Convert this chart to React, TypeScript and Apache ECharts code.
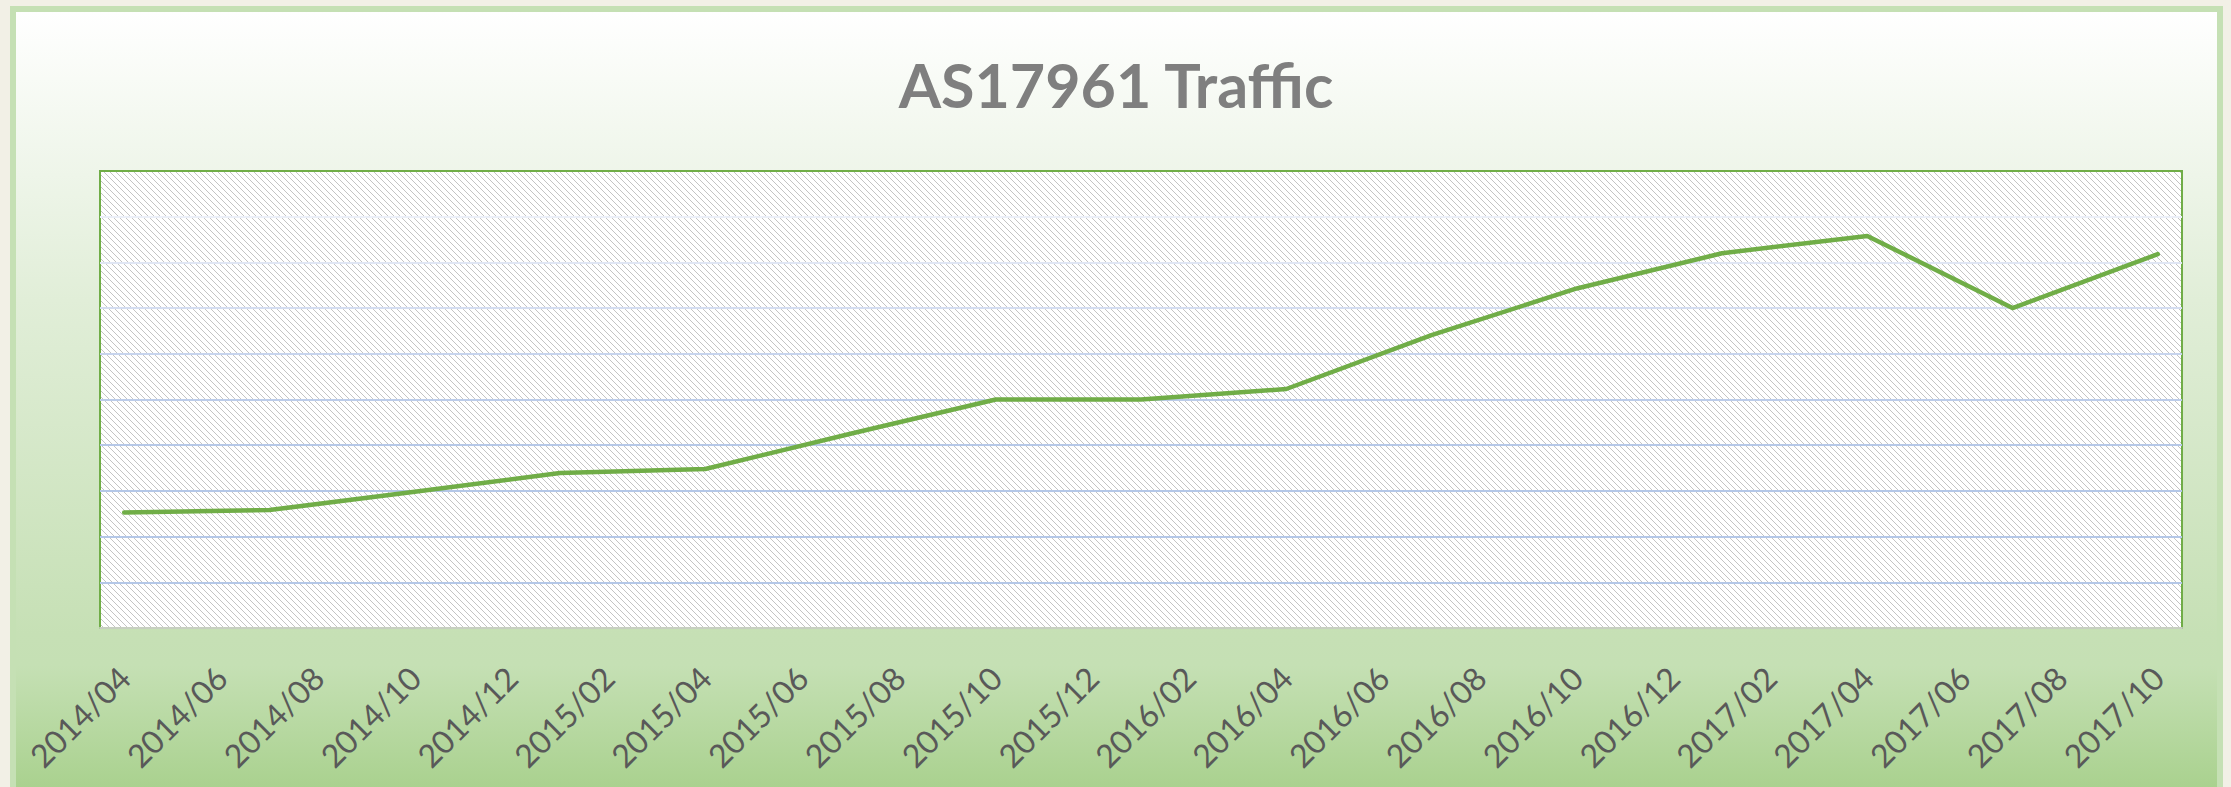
import React, { useEffect, useRef } from 'react';
import * as echarts from 'echarts';

// All months on the date axis (one category per month)
const months = [
  '2014/04', '2014/05', '2014/06', '2014/07', '2014/08', '2014/09', '2014/10', '2014/11', '2014/12',
  '2015/01', '2015/02', '2015/03', '2015/04', '2015/05', '2015/06', '2015/07', '2015/08', '2015/09',
  '2015/10', '2015/11', '2015/12', '2016/01', '2016/02', '2016/03', '2016/04', '2016/05', '2016/06',
  '2016/07', '2016/08', '2016/09', '2016/10', '2016/11', '2016/12', '2017/01', '2017/02', '2017/03',
  '2017/04', '2017/05', '2017/06', '2017/07', '2017/08', '2017/09', '2017/10',
];

// Quarterly measurements
const pointMonths = [
  '2014/04', '2014/07', '2014/10', '2015/01', '2015/04', '2015/07', '2015/10', '2016/01',
  '2016/04', '2016/07', '2016/10', '2017/01', '2017/04', '2017/07', '2017/10',
];
const trafficValues = [
  2.53, 2.58, 2.98, 3.39, 3.48, 4.25, 5.0, 5.0,
  5.23, 6.41, 7.43, 8.2, 8.58, 7.0, 8.18,
];

const chartTitle = 'AS17961 Traffic';

// split line colours from value 0 (bottom) to value 10 (top)
const gridLineColors = [
  'rgba(0,0,0,0)', '#b4c7e7', '#b4c7e7', '#b4c7e7', '#b6c8e7', '#bccce9',
  '#c7d4ed', '#d4ddf1', '#e0e6f4', '#ebeff8', 'rgba(0,0,0,0)',
];

function makeHatch(): HTMLCanvasElement {
  const n = 6;
  const c = document.createElement('canvas');
  c.width = n;
  c.height = n;
  const ctx = c.getContext('2d')!;
  ctx.fillStyle = '#ffffff';
  ctx.fillRect(0, 0, n, n);
  for (let y = 0; y < n; y++) {
    for (let x = 0; x < n; x++) {
      const d = (((x - y) % n) + n) % n;
      if (d === 0) {
        ctx.fillStyle = '#c4c4c4';
        ctx.fillRect(x, y, 1, 1);
      } else if (d === 1 && (x + y) % 2 === 0) {
        ctx.fillStyle = '#d4d4d4';
        ctx.fillRect(x, y, 1, 1);
      }
    }
  }
  return c;
}

export default function App() {
  const ref = useRef<HTMLDivElement>(null);

  useEffect(() => {
    document.body.style.margin = '0';
    const chart = echarts.init(ref.current!, null, { renderer: 'svg' });
    const hatch = makeHatch();
    chart.setOption({
      animation: false,
      graphic: [
        {
          type: 'text',
          x: 1100,
          y: 72,
          style: {
            text: chartTitle,
            fill: '#7f7f7f',
            font: 'bold 61px Lato',
            textAlign: 'center',
            textVerticalAlign: 'middle',
          },
        },
      ],
      grid: {
        left: 84,
        right: 35,
        top: 159,
        bottom: 156,
        show: true,
        borderColor: '#70ad47',
        borderWidth: 2,
        backgroundColor: { image: hatch, repeat: 'repeat', imageWidth: 6, imageHeight: 6 },
      },
      xAxis: {
        type: 'category',
        data: months,
        boundaryGap: true,
        axisTick: { show: false },
        axisLine: { show: true, lineStyle: { color: '#c7cfc1', width: 2 } },
        axisLabel: {
          interval: 1,
          rotate: 45,
          margin: 44,
          align: 'right',
          verticalAlign: 'middle',
          color: '#595959',
          fontFamily: 'Lato',
          fontSize: 32,
        },
        splitLine: { show: false },
      },
      yAxis: {
        type: 'value',
        min: 0,
        max: 10,
        interval: 1,
        axisLabel: { show: false },
        axisLine: { show: false },
        axisTick: { show: false },
        splitLine: { show: true, lineStyle: { color: gridLineColors, width: 2 } },
      },
      series: [
        {
          type: 'line',
          data: pointMonths.map((m, i) => [m, trafficValues[i]]),
          showSymbol: false,
          symbol: 'none',
          lineStyle: { color: '#70ad47', width: 4.5, join: 'round', cap: 'round' },
          itemStyle: { color: '#70ad47' },
        },
      ],
    });
    return () => chart.dispose();
  }, []);

  return (
    <div style={{ position: 'relative', width: 2231, height: 787, background: '#f2f0e6', overflow: 'hidden' }}>
      <div
        style={{
          position: 'absolute',
          left: 10,
          top: 6,
          width: 2213,
          height: 790,
          border: '6px solid #c5e0b4',
          boxSizing: 'border-box',
          background:
            'linear-gradient(to bottom, #ffffff 0%, #eef5e9 21%, #e1eed8 37%, #c6e0b5 80%, #c5e0b4 84%, #a9d18e 100%)',
        }}
      />
      <div ref={ref} style={{ position: 'absolute', left: 16, top: 12, width: 2201, height: 772 }} />
    </div>
  );
}
